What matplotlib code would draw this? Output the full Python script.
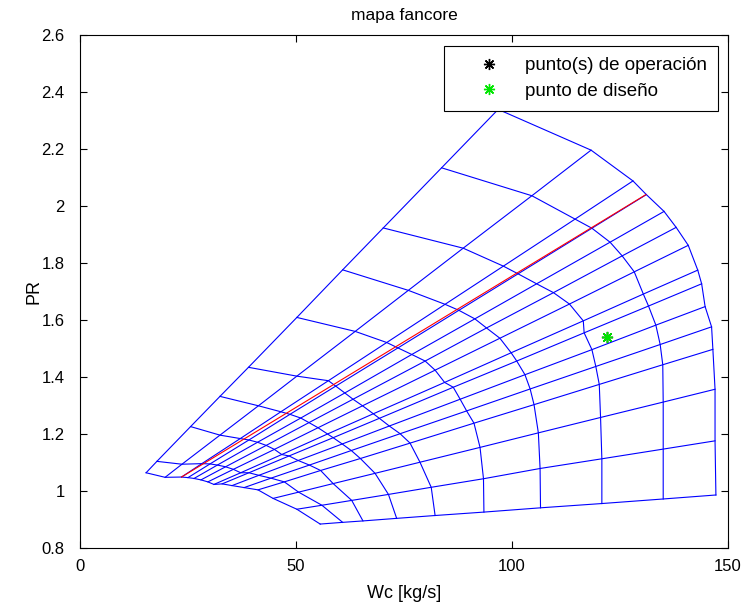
import matplotlib
matplotlib.use("Agg")
import matplotlib.pyplot as plt
from matplotlib.ticker import FormatStrFormatter

plt.rcParams['font.family'] = ['Liberation Sans', 'DejaVu Sans']

# Speed lines (low -> high speed), each with 15 beta points (surge -> choke)
n1_wc = [15.3, 19.7, 23.5, 25.0, 26.4, 28.0, 29.6, 31.0, 32.9, 35.2, 38.0, 41.2, 44.7, 50.2, 55.6]
n1_pr = [1.064, 1.048, 1.049, 1.047, 1.044, 1.039, 1.032, 1.023, 1.025, 1.019, 1.012, 1.004, 0.974, 0.936, 0.884]
n2_wc = [17.8, 23.6, 28.2, 30.1, 31.8, 33.7, 35.5, 37.2, 39.1, 41.4, 44.2, 47.3, 50.6, 56.0, 60.8]
n2_pr = [1.104, 1.094, 1.096, 1.095, 1.091, 1.085, 1.076, 1.064, 1.064, 1.055, 1.045, 1.032, 0.996, 0.950, 0.890]
n3_wc = [25.6, 32.4, 37.1, 39.1, 41.1, 43.1, 45.0, 46.7, 48.4, 50.5, 53.1, 55.7, 58.6, 62.9, 65.5]
n3_pr = [1.226, 1.196, 1.184, 1.179, 1.171, 1.160, 1.146, 1.128, 1.123, 1.107, 1.091, 1.072, 1.026, 0.967, 0.895]
n4_wc = [32.4, 41.3, 46.5, 48.6, 51.1, 53.0, 55.1, 57.3, 58.6, 60.7, 62.8, 64.9, 68.3, 71.4, 73.3]
n4_pr = [1.332, 1.299, 1.278, 1.269, 1.256, 1.240, 1.222, 1.200, 1.187, 1.165, 1.142, 1.114, 1.062, 0.988, 0.904]
n5_wc = [39.0, 50.2, 57.5, 59.2, 61.3, 63.2, 65.4, 67.9, 69.3, 71.6, 74.1, 76.4, 78.7, 81.3, 82.2]
n5_pr = [1.434, 1.403, 1.387, 1.368, 1.344, 1.322, 1.299, 1.271, 1.255, 1.228, 1.201, 1.168, 1.101, 1.013, 0.914]
n6_wc = [50.2, 63.7, 71.0, 73.6, 76.8, 79.9, 82.2, 84.4, 86.4, 88.0, 89.5, 91.2, 92.6, 93.4, 93.5]
n6_pr = [1.609, 1.560, 1.521, 1.502, 1.479, 1.456, 1.424, 1.381, 1.364, 1.322, 1.281, 1.238, 1.153, 1.043, 0.926]
n7_wc = [60.8, 76.0, 84.5, 87.7, 91.4, 94.1, 97.2, 99.8, 101.1, 103.0, 104.2, 105.1, 106.1, 106.5, 106.6]
n7_pr = [1.776, 1.704, 1.655, 1.634, 1.604, 1.572, 1.536, 1.485, 1.456, 1.408, 1.358, 1.303, 1.204, 1.079, 0.941]
n8_wc = [70.2, 88.7, 98.0, 101.4, 105.7, 109.6, 113.3, 116.5, 116.7, 118.5, 119.4, 120.2, 120.5, 120.8, 120.8]
n8_pr = [1.923, 1.852, 1.789, 1.762, 1.727, 1.696, 1.656, 1.597, 1.555, 1.496, 1.437, 1.374, 1.258, 1.113, 0.956]
n9_wc = [83.7, 104.6, 114.6, 118.5, 122.7, 125.5, 128.3, 130.4, 131.6, 133.3, 134.3, 134.9, 135.0, 135.0, 135.0]
n9_pr = [2.134, 2.036, 1.954, 1.922, 1.873, 1.825, 1.769, 1.691, 1.649, 1.582, 1.514, 1.443, 1.312, 1.147, 0.972]
n10_wc = [96.8, 118.3, 128.0, 131.1, 135.2, 138.0, 140.8, 143.0, 143.9, 144.7, 146.2, 146.5, 147.0, 147.0, 147.2]
n10_pr = [2.339, 2.196, 2.088, 2.040, 1.981, 1.925, 1.862, 1.775, 1.727, 1.647, 1.576, 1.497, 1.357, 1.176, 0.986]

speed_wc = [n1_wc, n2_wc, n3_wc, n4_wc, n5_wc, n6_wc, n7_wc, n8_wc, n9_wc, n10_wc]
speed_pr = [n1_pr, n2_pr, n3_pr, n4_pr, n5_pr, n6_pr, n7_pr, n8_pr, n9_pr, n10_pr]

# red line
red_wc = [23.5, 131.0]
red_pr = [1.049, 2.040]

# points
op_wc = [122.0]
op_pr = [1.540]
design_wc = [122.0]
design_pr = [1.540]

title = "mapa fancore"
xlabel = "Wc [kg/s]"
ylabel = "PR"
legend_labels = ["punto(s) de operación", "punto de diseño"]
xticks = [0, 50, 100, 150]
yticks = [0.8, 1.0, 1.2, 1.4, 1.6, 1.8, 2.0, 2.2, 2.4, 2.6]

fig = plt.figure(figsize=(7.42, 6.08), dpi=100)
ax = fig.add_axes([80/742, 60/608, 648/742, 513/608])

blue = (0, 0, 1)
lw = 0.8
nb = len(n1_wc)
# speed lines
for wc, pr in zip(speed_wc, speed_pr):
    ax.plot(wc, pr, color=blue, lw=lw)
# beta lines
for j in range(nb):
    ax.plot([w[j] for w in speed_wc], [p[j] for p in speed_pr], color=blue, lw=lw)

ax.plot(red_wc, red_pr, color=(1, 0, 0), lw=lw)

star = (8, 2, 0)
h1, = ax.plot(op_wc, op_pr, linestyle='none', marker=star, color='k', ms=8, mew=1)
h2, = ax.plot(design_wc, design_pr, linestyle='none', marker=star, color=(0, 0.9, 0), ms=8, mew=1)

ax.set_xlim(0, 150)
ax.set_ylim(0.8, 2.6)
ax.set_xticks(xticks)
ax.set_yticks(yticks)
ax.xaxis.set_major_formatter(FormatStrFormatter('%g'))
ax.yaxis.set_major_formatter(FormatStrFormatter('%g'))
ax.tick_params(direction='in', top=True, right=True, length=5, width=0.8, labelsize=12)
ax.tick_params(axis='y', pad=11)
ax.tick_params(axis='x', pad=8)
for s in ax.spines.values():
    s.set_linewidth(0.8)

ax.set_title(title, fontsize=12.5, pad=11)
ax.set_xlabel(xlabel, fontsize=13, labelpad=8)
ax.set_ylabel(ylabel, fontsize=13, labelpad=-1)

leg = ax.legend([h1, h2], legend_labels, loc='upper right', bbox_to_anchor=(0.985, 0.979),
                fontsize=13.5, frameon=True, fancybox=False, edgecolor='k', framealpha=1,
                borderaxespad=0, handlelength=3.6, handletextpad=0.1, borderpad=0.6, labelspacing=0.45)
leg.get_frame().set_linewidth(0.8)

fig.savefig("out.png", dpi=100)
